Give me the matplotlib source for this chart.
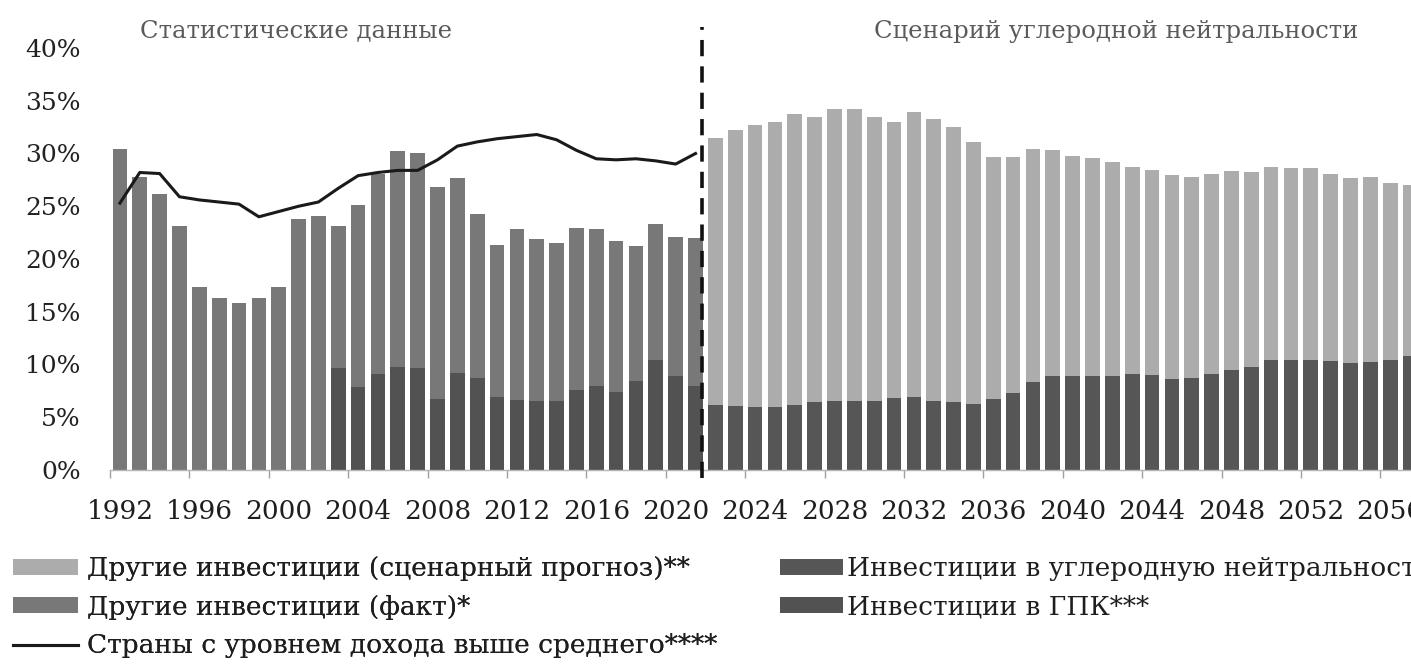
import matplotlib
matplotlib.use("Agg")
import matplotlib.pyplot as plt
import numpy as np
from matplotlib.patches import Patch
from matplotlib.lines import Line2D

# ---------------- data ----------------
hist_years = list(range(1992, 2022))
hist_total = [30.4, 27.8, 26.2, 23.1, 17.3, 16.3, 15.8, 16.3, 17.3, 23.8,
              24.1, 23.1, 25.1, 28.1, 30.2, 30.0, 26.8, 27.7, 24.3, 21.3,
              22.8, 21.9, 21.5, 22.9, 22.8, 21.7, 21.2, 23.3, 22.1, 22.0]
hist_gpk = [0, 0, 0, 0, 0, 0, 0, 0, 0, 0,
            0, 9.7, 7.9, 9.1, 9.8, 9.7, 6.7, 9.2, 8.7, 6.9,
            6.6, 6.5, 6.5, 7.6, 8.0, 7.4, 8.4, 10.4, 8.9, 8.0]
income_line = [25.3, 28.2, 28.1, 25.9, 25.6, 25.4, 25.2, 24.0, 24.5, 25.0,
               25.4, 26.7, 27.9, 28.2, 28.4, 28.4, 29.4, 30.7, 31.1, 31.4,
               31.6, 31.8, 31.3, 30.3, 29.5, 29.4, 29.5, 29.3, 29.0, 30.0]

scen_years = list(range(2022, 2058))
scen_total = [31.5, 32.2, 32.7, 33.0, 33.7, 33.5, 34.2, 34.2, 33.5, 33.0,
              33.9, 33.3, 32.5, 31.1, 29.7, 29.7, 30.4, 30.3, 29.8, 29.6,
              29.2, 28.7, 28.4, 28.0, 27.8, 28.1, 28.3, 28.2, 28.7, 28.6,
              28.6, 28.1, 27.7, 27.8, 27.2, 27.0]
scen_neutral = [6.2, 6.1, 6.0, 6.0, 6.2, 6.4, 6.5, 6.5, 6.5, 6.8,
                6.9, 6.5, 6.4, 6.3, 6.7, 7.3, 8.3, 8.9, 8.9, 8.9,
                8.9, 9.1, 9.0, 8.6, 8.7, 9.1, 9.5, 9.8, 10.4, 10.4,
                10.4, 10.3, 10.1, 10.2, 10.4, 10.8]

tick_years = list(range(1992, 2057, 4))
yticks = list(range(0, 41, 5))

labels = {
    "scen_other": "Другие инвестиции (сценарный прогноз)**",
    "fact_other": "Другие инвестиции (факт)*",
    "line": "Страны с уровнем дохода выше среднего****",
    "neutral": "Инвестиции в углеродную нейтральность**",
    "gpk": "Инвестиции в ГПК***",
}
title_left = "Статистические данные"
title_right = "Сценарий углеродной нейтральности"

# ---------------- style ----------------
C_LIGHT = "#acacac"
C_MID = "#787878"
C_DARK = "#525252"
C_DARK2 = "#565656"
FONT = "DejaVu Serif"
plt.rcParams["font.family"] = FONT

W, H = 1411, 665
fig = plt.figure(figsize=(W / 100, H / 100), dpi=100)
ax = fig.add_axes([110 / W, 195 / H, 1310 / W, 422 / H])

bw = 0.74
hist_other = np.array(hist_total) - np.array(hist_gpk)
scen_other = np.array(scen_total) - np.array(scen_neutral)

ax.bar(hist_years, hist_gpk, width=bw, color=C_DARK, linewidth=0)
ax.bar(hist_years, hist_other, bottom=hist_gpk, width=bw, color=C_MID, linewidth=0)
ax.bar(scen_years, scen_neutral, width=bw, color=C_DARK2, linewidth=0)
ax.bar(scen_years, scen_other, bottom=scen_neutral, width=bw, color=C_LIGHT, linewidth=0)

ax.plot(hist_years, income_line, color="#1a1a1a", lw=2.2, zorder=4)

# divider between statistics and scenario
ax.axvline(hist_years[-1] + 0.35, ymin=-0.02, ymax=1.05, color="#111111",
           lw=2.6, dashes=(4.5, 2.8), clip_on=False, zorder=5)

ax.set_xlim(1991.5, 2057.5)
ax.set_ylim(0, 40)

for s in ("top", "right", "left"):
    ax.spines[s].set_visible(False)
ax.spines["bottom"].set_color("#b5b5b5")
ax.spines["bottom"].set_linewidth(1.0)

ax.set_xticks(np.arange(1991.5, 2058, 4))
ax.set_xticklabels([])
ax.tick_params(axis="x", which="major", length=6, color="#a0a0a0", width=1)
ax.set_xticks(tick_years, minor=True)
ax.set_xticklabels([str(y) for y in tick_years], minor=True, fontsize=19, color="#1e1e1e")
ax.tick_params(axis="x", which="minor", length=0, pad=21)

ax.set_yticks(yticks)
ax.set_yticklabels([f"{v}%" for v in yticks], fontsize=18, color="#222222")
ax.tick_params(axis="y", length=0, pad=21)

ax.text(1993.0, 41.6, title_left, fontsize=17.5, color="#5a5a5a",
        ha="left", va="center", clip_on=False)
ax.text(2030.0, 41.6, title_right, fontsize=17.5, color="#5a5a5a",
        ha="left", va="center", clip_on=False)

# legends
fs = 19
h1 = [Patch(facecolor=C_LIGHT, edgecolor="none"),
      Patch(facecolor=C_MID, edgecolor="none"),
      Line2D([], [], color="#1a1a1a", lw=2.2)]
l1 = [labels["scen_other"], labels["fact_other"], labels["line"]]
leg1 = fig.legend(h1, l1, loc="upper left", bbox_to_anchor=(13 / W, 1 - 556 / H),
                  frameon=False, fontsize=fs, handlelength=2.45, handleheight=0.55,
                  handletextpad=0.35, labelspacing=0.52, borderpad=0, borderaxespad=0)
for t in leg1.get_texts():
    t.set_color("#1e1e1e")
h2 = [Patch(facecolor=C_DARK2, edgecolor="none"),
      Patch(facecolor=C_DARK, edgecolor="none")]
l2 = [labels["neutral"], labels["gpk"]]
leg2 = fig.legend(h2, l2, loc="upper left", bbox_to_anchor=(780 / W, 1 - 556 / H),
                  frameon=False, fontsize=fs, handlelength=2.4, handleheight=0.55,
                  handletextpad=0.15, labelspacing=0.52, borderpad=0, borderaxespad=0)
for t in leg2.get_texts():
    t.set_color("#1e1e1e")
fig.add_artist(leg1)

fig.savefig("out.png", dpi=100, facecolor="white")
